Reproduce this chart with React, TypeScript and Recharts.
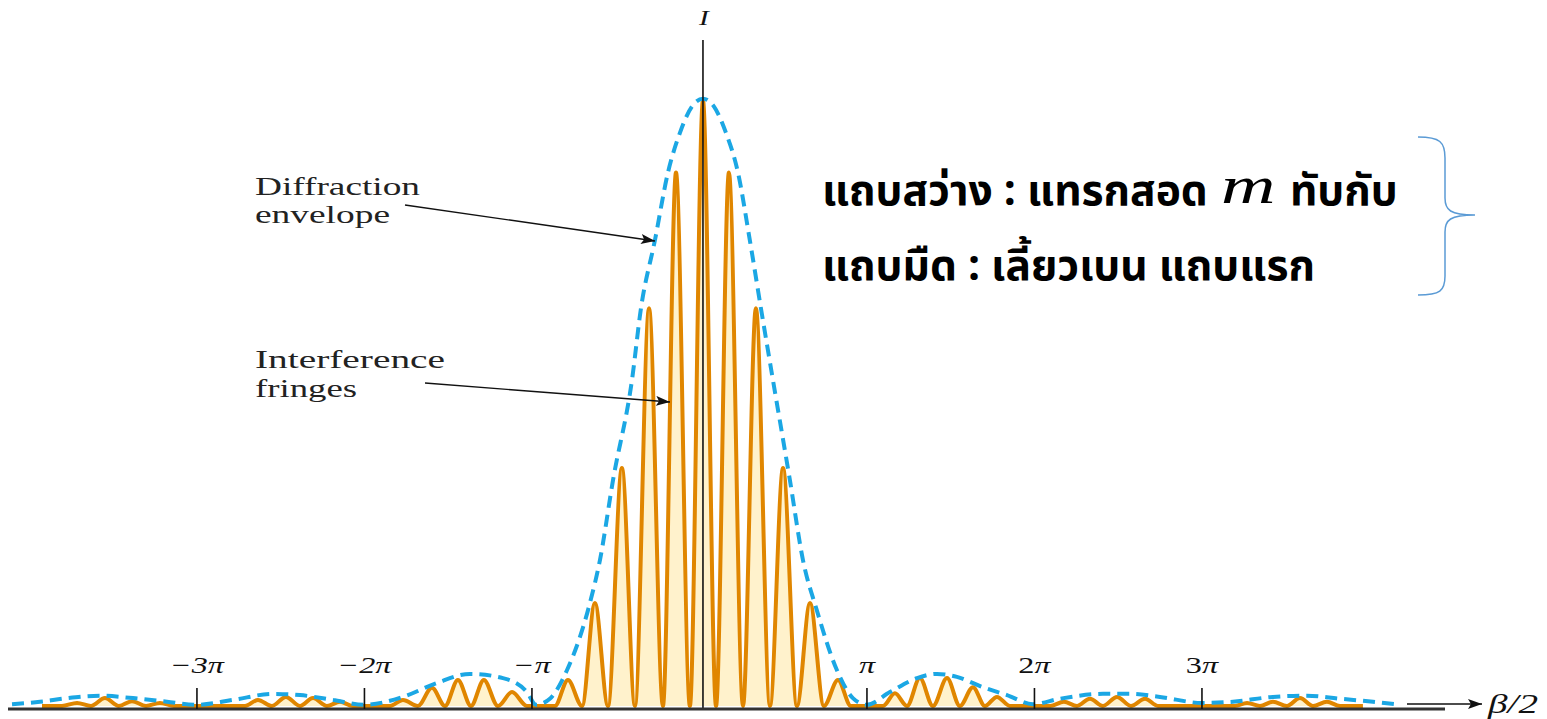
import { Area, ComposedChart, Line, ReferenceLine, XAxis, YAxis } from "recharts";

const W = 1547;
const H = 719;

// beta/2 in units of pi, intensity relative to the central maximum
const fringeX = [
  -3.925, -3.806, -3.716, -3.633, -3.549, -3.466, -3.388, -3.304, -3.221, -3.137,
  -2.713, -2.636, -2.552, -2.469, -2.385, -2.307, -2.224, -2.146, -2.069,
  -1.848, -1.77, -1.681, -1.597, -1.519, -1.442, -1.364, -1.287, -1.203, -1.119, -1.03,
  -0.863, -0.785, -0.701, -0.624, -0.546, -0.463, -0.385, -0.301, -0.218, -0.14, -0.057, 0.021,
  0.099, 0.176, 0.26, 0.337, 0.421, 0.499, 0.582, 0.66, 0.743, 0.827, 0.904,
  1.096, 1.167, 1.239, 1.316, 1.394, 1.478, 1.555, 1.633, 1.704, 1.776, 1.854,
  2.093, 2.176, 2.254, 2.331, 2.409, 2.493, 2.576, 2.66, 2.737,
  3.197, 3.269, 3.346, 3.424, 3.507, 3.585, 3.663, 3.746, 3.824, 3.961,
];
const fringeI = [
  0, 0, 0.005, 0, 0.013, 0, 0.008, 0, 0.005, 0,
  0, 0.01, 0, 0.015, 0, 0.013, 0, 0.007, 0,
  0, 0.01, 0, 0.03, 0, 0.043, 0, 0.043, 0, 0.023, 0,
  0, 0.043, 0, 0.17, 0, 0.393, 0, 0.657, 0, 0.881, 0, 1.0,
  0, 0.881, 0, 0.657, 0, 0.393, 0, 0.17, 0, 0.043, 0,
  0, 0.021, 0, 0.046, 0, 0.046, 0, 0.031, 0, 0.015, 0,
  0, 0.007, 0, 0.012, 0, 0.015, 0, 0.012, 0,
  0, 0.005, 0, 0.007, 0, 0.013, 0, 0.007, 0, 0,
];

const envX = [
  -4.104, -3.937, -3.776, -3.579, -3.382, -3.179, -3.0, -2.785, -2.546, -2.385, -2.188, -2.003,
  -1.77, -1.567, -1.37, -1.173, -1.03, -0.976, -0.893, -0.791, -0.654, -0.594, -0.516, -0.403,
  -0.349, -0.266, -0.188, -0.116, -0.045, 0.021, 0.087, 0.158, 0.23, 0.301, 0.367, 0.439, 0.54,
  0.618, 0.701, 0.821, 0.916, 0.999, 1.137, 1.299, 1.418, 1.537, 1.693, 1.836, 1.991, 2.152,
  2.409, 2.57, 2.749, 3.0, 3.185, 3.424, 3.627, 3.824, 4.021, 4.152,
];
const envI = [
  0.003, 0.007, 0.013, 0.017, 0.013, 0.007, 0.002, 0.01, 0.02, 0.018, 0.01, 0.002,
  0.015, 0.038, 0.053, 0.046, 0.023, 0.002, 0.012, 0.059, 0.17, 0.241, 0.373, 0.538,
  0.657, 0.769, 0.881, 0.947, 0.99, 1.003, 0.99, 0.947, 0.881, 0.769, 0.657, 0.538, 0.373,
  0.241, 0.158, 0.059, 0.013, 0.002, 0.023, 0.046, 0.053, 0.048, 0.031, 0.018, 0.003, 0.012,
  0.02, 0.02, 0.015, 0.005, 0.007, 0.015, 0.017, 0.012, 0.007, 0.003,
];

const tickValues = [-3, -2, -1, 1, 2, 3];
const tickLabels = ["−3", "−2", "−", "", "2", "3"];

const centerLineX = 0.021;

const fringeData = fringeX.map((x, i) => ({ x, I: fringeI[i] }));
const envData = envX.map((x, i) => ({ x, I: envI[i] }));

const serif = "'Liberation Serif', 'Times New Roman', serif";
const thai = "'Noto Sans Thai', 'Noto Sans Thai UI', 'Leelawadee UI', Tahoma, Loma, Garuda, 'Noto Sans', sans-serif";

function PiTick(props: { x?: number; y?: number; payload?: { value: number } }) {
  const { x = 0, y = 0, payload } = props;
  const idx = tickValues.indexOf(payload?.value ?? 0);
  const pre = tickLabels[idx] ?? "";
  const neg = (payload?.value ?? 0) < 0;
  return (
    <g>
      <line x1={x} x2={x} y1={y - 21} y2={y} stroke="#111" strokeWidth={1.6} />
      <text
        transform={`translate(${x},${y - 36}) scale(1.4,1)`}
        textAnchor="middle"
        fontFamily={serif}
        fontSize={23}
        fill="#111"
      >
        <tspan fontStyle={neg ? "italic" : "normal"}>{pre}</tspan>
        <tspan fontStyle="italic">π</tspan>
      </text>
    </g>
  );
}

function Overlay() {
  return (
    <svg width={W} height={H} style={{ position: "absolute", left: 0, top: 0, pointerEvents: "none" }}>
      <defs>
        <marker id="ah" viewBox="0 0 14 10" refX="14" refY="5" markerWidth="14" markerHeight="10" markerUnits="userSpaceOnUse" orient="auto">
          <path d="M0,0 L14,5 L0,10 L3,5 Z" fill="#111" />
        </marker>
      </defs>
      <text transform="translate(704,25) scale(1.4,1)" textAnchor="middle" fontFamily={serif} fontStyle="italic" fontSize={21} fill="#111">
        I
      </text>

      <g fontFamily={serif} fontSize={26} fill="#222">
        <text x={255} y={195} textLength={165} lengthAdjust="spacingAndGlyphs">Diffraction</text>
        <text x={255} y={223} textLength={135} lengthAdjust="spacingAndGlyphs">envelope</text>
        <text x={255} y={368} textLength={190} lengthAdjust="spacingAndGlyphs">Interference</text>
        <text x={255} y={397} textLength={102} lengthAdjust="spacingAndGlyphs">fringes</text>
      </g>
      <line x1={405} y1={205} x2={655} y2={241} stroke="#111" strokeWidth={1.4} markerEnd="url(#ah)" />
      <line x1={425} y1={383} x2={670} y2={402} stroke="#111" strokeWidth={1.4} markerEnd="url(#ah)" />

      <line x1={1407} y1={704} x2={1482} y2={704} stroke="#111" strokeWidth={1.6} markerEnd="url(#ah)" />
      <text transform="translate(1488,713) scale(1.4,1)" fontFamily={serif} fontStyle="italic" fontSize={28} fill="#111">
        β/2
      </text>

      <g fontFamily={thai} fontWeight={700} fontSize={42.5} fill="#000">
        <text x={822} y={205}>แถบสว่าง : แทรกสอด</text>
        <text x={1290} y={205}>ทับกับ</text>
        <text x={822} y={280}>แถบมืด : เลี้ยวเบน แถบแรก</text>
      </g>
      <text transform="translate(1221,203) scale(1.45,1)" fontFamily={serif} fontStyle="italic" fontSize={52} fill="#000">
        m
      </text>

      <path
        d="M1418,137 C1440,137 1445,142 1445,158 L1445,198 C1445,210 1450,215 1475,215 C1450,215 1445,220 1445,232 L1445,276 C1445,291 1440,295 1418,295"
        fill="none"
        stroke="#5b9bd5"
        strokeWidth={1.5}
      />
    </svg>
  );
}

export default function App() {
  return (
    <div style={{ position: "absolute", left: 0, top: 0, width: W, height: H, background: "#fff" }}>
      <ComposedChart width={W} height={H} margin={{ top: 40, right: 102, bottom: 0, left: 8 }}>
        <XAxis
          type="number"
          dataKey="x"
          domain={[-4.128, 4.451]}
          allowDataOverflow
          ticks={tickValues}
          tick={<PiTick />}
          tickLine={false}
          tickSize={0}
          tickMargin={0}
          height={10}
          axisLine={{ stroke: "#333", strokeWidth: 3 }}
          interval={0}
        />
        <YAxis type="number" domain={[-0.005, 1.1]} allowDataOverflow hide />
        <Area
          data={fringeData}
          dataKey="I"
          type="monotone"
          stroke="#e08600"
          strokeWidth={4}
          fill="#fff2cc"
          fillOpacity={1}
          isAnimationActive={false}
          dot={false}
          activeDot={false}
        />
        <Line
          data={envData}
          dataKey="I"
          type="monotone"
          stroke="#1ba7e4"
          strokeWidth={4}
          strokeDasharray="12 7"
          dot={false}
          activeDot={false}
          isAnimationActive={false}
        />
        <ReferenceLine x={centerLineX} stroke="#111" strokeWidth={1.6} />
      </ComposedChart>
      <Overlay />
    </div>
  );
}
